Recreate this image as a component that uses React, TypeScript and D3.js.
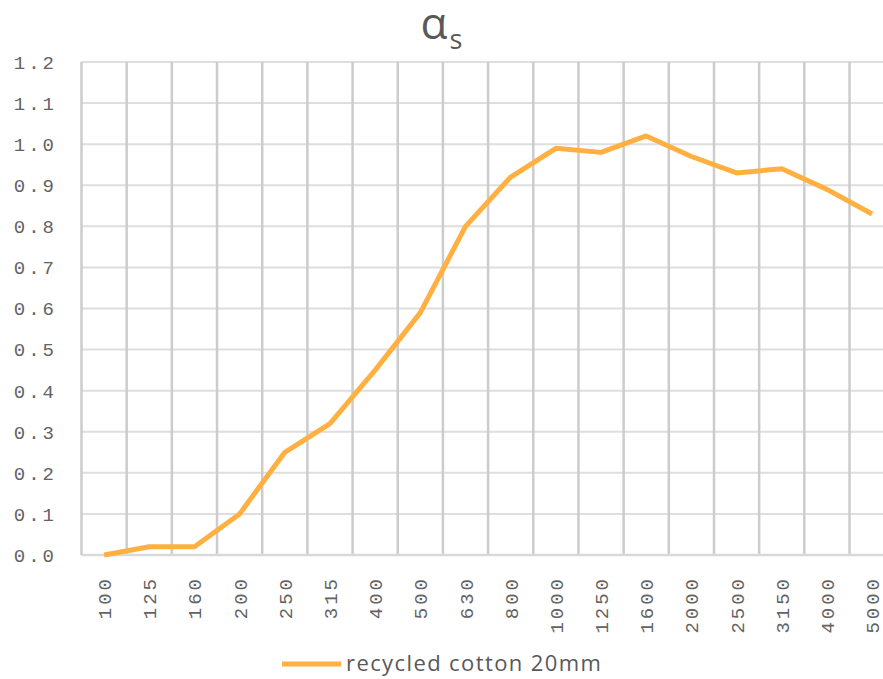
import { useEffect, useRef } from "react"
import * as d3 from "d3"

const frequencies = ["100", "125", "160", "200", "250", "315", "400", "500", "630", "800", "1000", "1250", "1600", "2000", "2500", "3150", "4000", "5000"]
const absorption = [0.0, 0.02, 0.02, 0.1, 0.25, 0.32, 0.45, 0.59, 0.8, 0.92, 0.99, 0.98, 1.02, 0.97, 0.93, 0.94, 0.89, 0.83]
const yTicks = [0, 0.1, 0.2, 0.3, 0.4, 0.5, 0.6, 0.7, 0.8, 0.9, 1.0, 1.1, 1.2]
const seriesName = "recycled cotton 20mm"

const WIDTH = 883
const HEIGHT = 679
const LINE_COLOR = "#ffb040"
const TEXT_COLOR = "#595959"
const TICK_FONT = "'Liberation Mono', 'DejaVu Sans Mono', monospace"

export default function App() {
  const svgRef = useRef<SVGSVGElement>(null)

  useEffect(() => {
    if (!svgRef.current) return
    const margin = { top: 62, left: 81.5, bottom: 555 }
    // the plot runs past the right edge of the picture, as in the original
    const plotRight = 894.7

    const svg = d3.select(svgRef.current)
    svg.selectAll("*").remove()

    const x = d3.scaleBand<string>().domain(frequencies).range([margin.left, plotRight])
    const y = d3.scaleLinear().domain([0, 1.2]).range([margin.bottom, margin.top])

    // horizontal grid
    svg
      .append("g")
      .selectAll("line")
      .data(yTicks)
      .join("line")
      .attr("x1", margin.left)
      .attr("x2", plotRight)
      .attr("y1", (d) => y(d))
      .attr("y2", (d) => y(d))
      .attr("stroke", "#dedede")
      .attr("stroke-width", 2)

    // vertical grid at band edges
    const edges = frequencies.map((f) => x(f) as number).concat([plotRight])
    svg
      .append("g")
      .selectAll("line")
      .data(edges)
      .join("line")
      .attr("x1", (d) => d)
      .attr("x2", (d) => d)
      .attr("y1", margin.top)
      .attr("y2", margin.bottom)
      .attr("stroke", "#cccccc")
      .attr("stroke-width", 2.5)

    // bottom axis line
    svg
      .append("line")
      .attr("x1", margin.left)
      .attr("x2", plotRight)
      .attr("y1", y(0))
      .attr("y2", y(0))
      .attr("stroke", "#d9d9d9")
      .attr("stroke-width", 2.5)

    // y tick labels
    svg
      .append("g")
      .selectAll("text")
      .data(yTicks)
      .join("text")
      .attr("x", 57)
      .attr("y", (d) => y(d))
      .attr("dy", "0.36em")
      .attr("text-anchor", "end")
      .attr("font-family", TICK_FONT)
      .attr("font-size", 19)
      .attr("letter-spacing", 3)
      .attr("fill", "#636363")
      .text((d) => d.toFixed(1))

    // x tick labels, rotated
    svg
      .append("g")
      .selectAll("text")
      .data(frequencies)
      .join("text")
      .attr("transform", (d) => `translate(${(x(d) as number) + x.bandwidth() / 2 + 7},576) rotate(-90)`)
      .attr("text-anchor", "end")
      .attr("font-family", TICK_FONT)
      .attr("font-size", 19)
      .attr("letter-spacing", 3)
      .attr("fill", "#636363")
      .text((d) => d)

    // series line
    const line = d3
      .line<number>()
      .x((_, i) => (x(frequencies[i]) as number) + x.bandwidth() / 2)
      .y((d) => y(d))

    svg
      .append("path")
      .datum(absorption)
      .attr("fill", "none")
      .attr("stroke", LINE_COLOR)
      .attr("stroke-width", 5)
      .attr("stroke-linejoin", "round")
      .attr("d", line)

    // title
    const title = svg
      .append("text")
      .attr("x", WIDTH / 2)
      .attr("y", 39)
      .attr("text-anchor", "middle")
      .attr("font-family", "'Open Sans', sans-serif")
      .attr("fill", TEXT_COLOR)
    title.append("tspan").attr("font-size", 44).text("α")
    title.append("tspan").attr("font-size", 27).attr("dx", 2).attr("dy", 10).text("s")

    // legend
    svg
      .append("line")
      .attr("x1", 282)
      .attr("x2", 341)
      .attr("y1", 664)
      .attr("y2", 664)
      .attr("stroke", LINE_COLOR)
      .attr("stroke-width", 5)
    svg
      .append("text")
      .attr("x", 346)
      .attr("y", 671)
      .attr("font-family", "'Open Sans', sans-serif")
      .attr("font-size", 22)
      .attr("letter-spacing", 1.4)
      .attr("fill", TEXT_COLOR)
      .text(seriesName)
  }, [])

  return (
    <svg
      ref={svgRef}
      width={WIDTH}
      height={HEIGHT}
      style={{ position: "absolute", left: 0, top: 0, background: "#ffffff", overflow: "hidden" }}
    />
  )
}
